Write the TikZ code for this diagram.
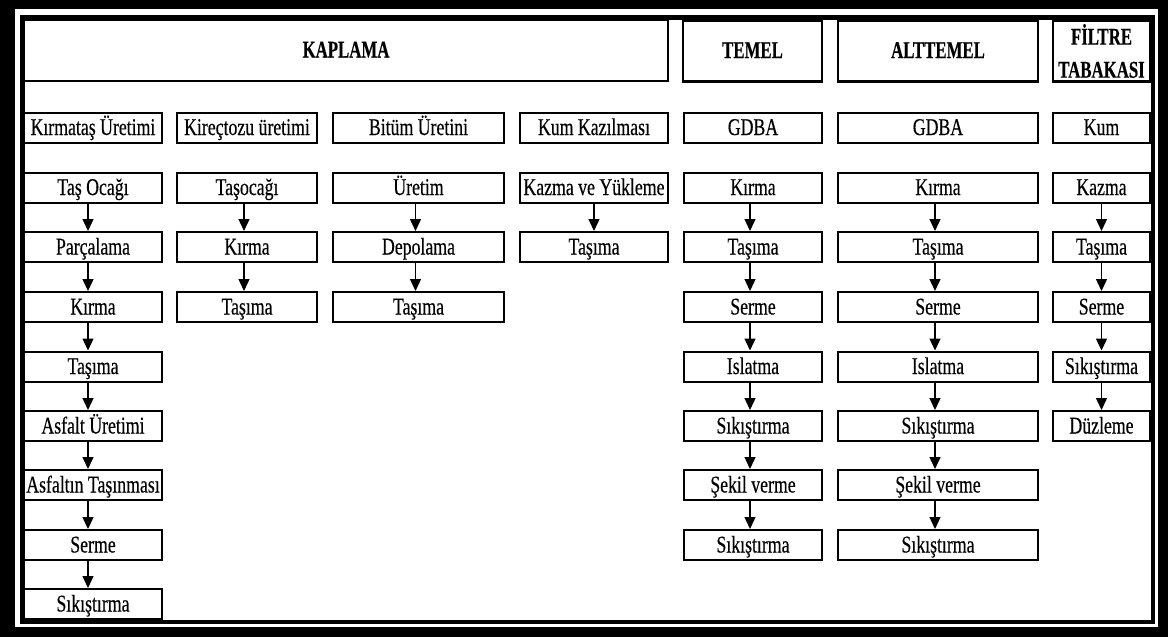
\documentclass[tikz,border=0pt]{standalone}
\usepackage{fontspec}
\setmainfont[FakeStretch=0.74, FakeBold=0.35, BoldFeatures={FakeStretch=0.70}]{Liberation Serif}
\usetikzlibrary{arrows.meta}
\begin{document}
\begin{tikzpicture}[x=1pt,y=-1pt,
  box/.style={draw, line width=2pt, rectangle, inner sep=0pt, minimum height=30pt, text height=20pt, text depth=5pt, font=\fontsize{24}{26}\selectfont},
  headbase/.style={draw, line width=2.4pt, rectangle, inner sep=0pt, minimum height=61pt, align=center, font=\fontsize{24}{33}\selectfont\bfseries},
  head/.style={headbase, text height=19pt, text depth=5pt},
  flow/.style={line width=1.4pt, -{Triangle[width=11pt,length=12pt]}}]
\useasboundingbox (0,0) rectangle (1168,637);
% frame
\fill[black] (0,0) rectangle (1168,637);
\fill[white] (15,9) rectangle (1158,627);
\draw[line width=4.5pt] (22.5,17.5) rectangle (1153,622);
% headers
\node[head, minimum width=644pt] (kap) at (346,50.5) {KAPLAMA};
\node[head, minimum width=139pt] (tem) at (752.5,51) {TEMEL};
\node[head, minimum width=200pt] (alt) at (938,51) {ALTTEMEL};
\node[headbase, minimum width=97pt] (fil) at (1101.5,51) {FİLTRE\\TABAKASI};
% column 1
\node[box, minimum width=138pt] (a1) at (93,127.5) {Kırmataş Üretimi};
\node[box, minimum width=138pt] (a2) at (93,187.5) {Taş Ocağı};
\node[box, minimum width=138pt] (a3) at (93,247) {Parçalama};
\node[box, minimum width=138pt] (a4) at (93,307) {Kırma};
\node[box, minimum width=138pt] (a5) at (93,366.5) {Taşıma};
\node[box, minimum width=138pt] (a6) at (93,426) {Asfalt Üretimi};
\node[box, minimum width=138pt] (a7) at (93,485) {Asfaltın Taşınması};
\node[box, minimum width=138pt] (a8) at (93,545) {Serme};
\node[box, minimum width=138pt] (a9) at (93,604) {Sıkıştırma};
% column 2
\node[box, minimum width=140pt] (b1) at (247,127.5) {Kireçtozu üretimi};
\node[box, minimum width=140pt] (b2) at (247,187.5) {Taşocağı};
\node[box, minimum width=140pt] (b3) at (247,247) {Kırma};
\node[box, minimum width=140pt] (b4) at (247,307) {Taşıma};
% column 3
\node[box, minimum width=171pt] (c1) at (418.5,127.5) {Bitüm Üretini};
\node[box, minimum width=171pt] (c2) at (418.5,187.5) {Üretim};
\node[box, minimum width=171pt] (c3) at (418.5,247) {Depolama};
\node[box, minimum width=171pt] (c4) at (418.5,307) {Taşıma};
% column 4
\node[box, minimum width=148pt] (d1) at (594,127.5) {Kum Kazılması};
\node[box, minimum width=148pt] (d2) at (594,187.5) {Kazma ve Yükleme};
\node[box, minimum width=148pt] (d3) at (594,247) {Taşıma};
% column 5
\node[box, minimum width=138pt] (e1) at (753,127.5) {GDBA};
\node[box, minimum width=138pt] (e2) at (753,187.5) {Kırma};
\node[box, minimum width=138pt] (e3) at (753,247) {Taşıma};
\node[box, minimum width=138pt] (e4) at (753,307) {Serme};
\node[box, minimum width=138pt] (e5) at (753,366.5) {Islatma};
\node[box, minimum width=138pt] (e6) at (753,426) {Sıkıştırma};
\node[box, minimum width=138pt] (e7) at (753,485) {Şekil verme};
\node[box, minimum width=138pt] (e8) at (753,545) {Sıkıştırma};
% column 6
\node[box, minimum width=200pt] (f1) at (938,127.5) {GDBA};
\node[box, minimum width=200pt] (f2) at (938,187.5) {Kırma};
\node[box, minimum width=200pt] (f3) at (938,247) {Taşıma};
\node[box, minimum width=200pt] (f4) at (938,307) {Serme};
\node[box, minimum width=200pt] (f5) at (938,366.5) {Islatma};
\node[box, minimum width=200pt] (f6) at (938,426) {Sıkıştırma};
\node[box, minimum width=200pt] (f7) at (938,485) {Şekil verme};
\node[box, minimum width=200pt] (f8) at (938,545) {Sıkıştırma};
% column 7
\node[box, minimum width=97pt] (g1) at (1101.5,127.5) {Kum};
\node[box, minimum width=97pt] (g2) at (1101.5,187.5) {Kazma};
\node[box, minimum width=97pt] (g3) at (1101.5,247) {Taşıma};
\node[box, minimum width=97pt] (g4) at (1101.5,307) {Serme};
\node[box, minimum width=97pt] (g5) at (1101.5,366.5) {Sıkıştırma};
\node[box, minimum width=97pt] (g6) at (1101.5,426) {Düzleme};
% arrows
\foreach \i/\j in {2/3,3/4,4/5,5/6,6/7,7/8,8/9}
  \draw[flow] ([xshift=-5pt]a\i.south) -- ([xshift=-5pt]a\j.north);
\foreach \i/\j in {2/3,3/4}
  \draw[flow] ([xshift=-3pt]b\i.south) -- ([xshift=-3pt]b\j.north);
\foreach \i/\j in {2/3,3/4}
  \draw[flow] ([xshift=-3pt]c\i.south) -- ([xshift=-3pt]c\j.north);
\draw[flow] (d2.south) -- (d3.north);
\foreach \i/\j in {2/3,3/4,4/5,5/6,6/7,7/8}
  \draw[flow] ([xshift=-3pt]e\i.south) -- ([xshift=-3pt]e\j.north);
\foreach \i/\j in {2/3,3/4,4/5,5/6,6/7,7/8}
  \draw[flow] ([xshift=-3pt]f\i.south) -- ([xshift=-3pt]f\j.north);
\foreach \i/\j in {2/3,3/4,4/5,5/6}
  \draw[flow] (g\i.south) -- (g\j.north);
\end{tikzpicture}
\end{document}
